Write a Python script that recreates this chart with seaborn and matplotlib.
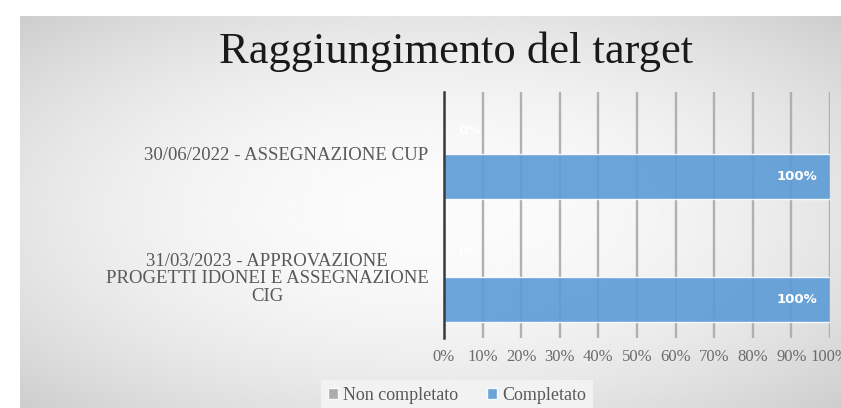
import numpy as np
import pandas as pd
import matplotlib
matplotlib.use("Agg")
import matplotlib.pyplot as plt
import seaborn as sns
from matplotlib.ticker import PercentFormatter

# Data
categories = ["30/06/2022 - ASSEGNAZIONE CUP",
              "31/03/2023 - APPROVAZIONE\nPROGETTI IDONEI E ASSEGNAZIONE\nCIG"]
series = ["Non completato", "Completato"]
non_completato = [0, 0]
completato = [100, 100]
x_ticks = list(range(0, 101, 10))
colors = ["#a5a5a5", "#5b9bd5"]

df = pd.DataFrame({
    "fase": categories * 2,
    "stato": [series[0]] * len(categories) + [series[1]] * len(categories),
    "valore": non_completato + completato,
})

sns.set_style("white")
plt.rcParams["font.family"] = ["Liberation Serif", "DejaVu Serif"]

W, H = 841, 408
fig = plt.figure(figsize=(W / 100, H / 100), dpi=100)

# chart area background: soft radial gradient, white strip top/left
bg = fig.add_axes([20 / W, 0, (W - 20) / W, (H - 16) / H], zorder=-5)
yy, xx = np.mgrid[-1:1:300j, -1:1:600j]
r2 = (xx ** 2 + yy ** 2) / 2
bg.imshow(0.985 - 0.18 * r2, cmap="gray", vmin=0, vmax=1, aspect="auto",
          interpolation="bicubic")
bg.axis("off")

# plot area
ax = fig.add_axes([444 / W, 70 / H, 386 / W, 246 / H])
ax.patch.set_alpha(0)
sns.barplot(data=df, x="valore", y="fase", hue="stato", hue_order=series,
            palette=colors, orient="h", width=0.74, saturation=1,
            alpha=0.9, ax=ax)

ax.set_xlim(0, 100)
ax.set_xticks(x_ticks)
ax.xaxis.set_major_formatter(PercentFormatter(decimals=0))
ax.xaxis.grid(True, color="#b0b0b0", lw=1.7)
ax.yaxis.grid(False)
ax.set_axisbelow(True)
for s in ["top", "right", "bottom"]:
    ax.spines[s].set_visible(False)
ax.spines["left"].set_color("#3a3a3a")
ax.spines["left"].set_linewidth(1.8)
ax.set_xlabel("")
ax.set_ylabel("")
ax.tick_params(axis="x", length=5, width=1.5, color="#8c8c8c",
               labelsize=12, labelcolor="#6b6b6b", pad=3)
ax.tick_params(axis="y", length=0, labelsize=13.5, labelcolor="#595959", pad=11)
for lab in ax.get_yticklabels():
    lab.set_multialignment("center")
    lab.set_linespacing(1.05)

# data labels
for cont in ax.containers:
    for bar in cont:
        w = bar.get_width()
        yc = bar.get_y() + bar.get_height() / 2
        if w > 0:
            ax.annotate(f"{w:.0f}%", (w, yc), xytext=(-9, 0),
                        textcoords="offset points", ha="right", va="center",
                        color="white", fontweight="bold", fontsize=9.5,
                        family="DejaVu Sans")
        else:
            ax.annotate(f"{w:.0f}%", (w, yc), xytext=(10, 0),
                        textcoords="offset points", ha="left", va="center",
                        color="white", fontweight="bold", fontsize=9.5,
                        family="DejaVu Sans")

handles, labels = ax.get_legend_handles_labels()
ax.get_legend().remove()
leg = fig.legend(handles, labels, loc="center", bbox_to_anchor=(457 / W, 13 / H),
                 ncol=2, frameon=True, facecolor="#f2f2f2", edgecolor="none",
                 fancybox=False, framealpha=1, fontsize=13,
                 handlelength=0.55, handleheight=0.55, handletextpad=0.3,
                 columnspacing=1.6, borderpad=0.35)
for t in leg.get_texts():
    t.set_color("#595959")

fig.text(456 / W, 1 - 52 / H, "Raggiungimento del target", ha="center",
         va="center", fontsize=32, fontweight="medium", color="#1a1a1a")

fig.savefig("out.png", dpi=100)
